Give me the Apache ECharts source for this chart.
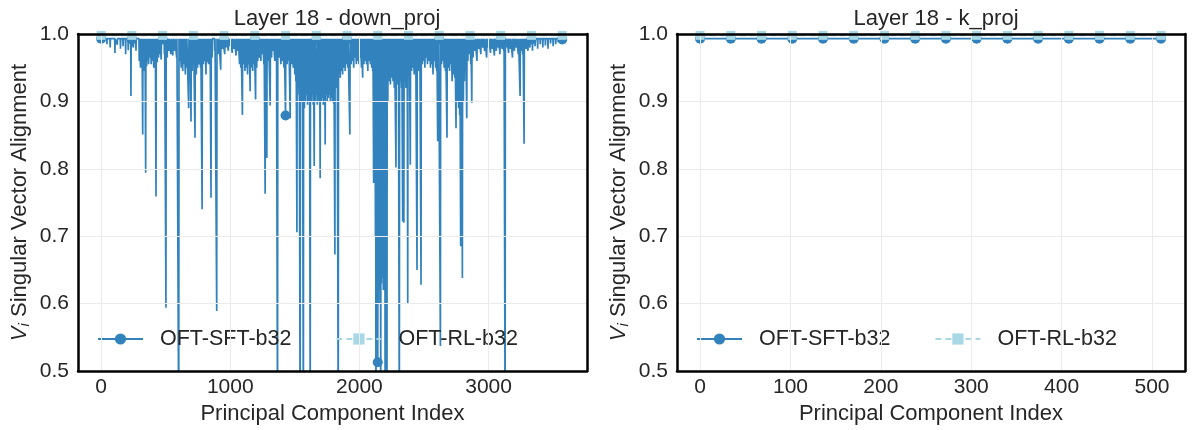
<!DOCTYPE html>
<html>
<head>
<meta charset="utf-8">
<script src="https://cdn.jsdelivr.net/npm/echarts@6/dist/echarts.min.js"></script>
<style>
html, body { margin: 0; padding: 0; background: #fff; }
#chart { width: 1194px; height: 430px; }
</style>
</head>
<body>
<div id="chart"></div>
<script>
const names = ['OFT-SFT-b32', 'OFT-RL-b32'];
const titles = ['Layer 18 - down_proj', 'Layer 18 - k_proj'];

// down_proj: 3584 components, markers every 238
const downLast = 3583;
const downTop = 0.993;
const downMarkIdx = [0, 238, 476, 714, 952, 1190, 1428, 1666, 1904, 2142, 2380, 2618, 2856, 3094, 3332, 3570];
const downSftMark = [0.993, 0.992, 0.992, 0.973, 0.991, 0.992, 0.879, 0.991, 0.992, 0.513, 0.982, 0.992, 0.989, 0.992, 0.992, 0.992];
const downRlMark = [0.998, 0.998, 0.998, 0.998, 0.998, 0.998, 0.998, 0.998, 0.998, 0.998, 0.998, 0.998, 0.998, 0.998, 0.998, 0.998];
// dips of the SFT curve [index, value]
const downSftDips = [
  [20,0.988],[45,0.985],[70,0.98],[107,0.972],[125,0.984],
  [150,0.978],[170,0.982],[190,0.97],[210,0.976],[231,0.908],[250,0.98],[270,0.975],
  [295,0.96],[305,0.95],[315,0.955],[322,0.851],[330,0.945],[338,0.95],[345,0.794],[352,0.952],[360,0.96],[368,0.955],
  [378,0.965],[388,0.955],[398,0.96],[408,0.95],[418,0.962],[425,0.759],[435,0.958],[445,0.965],[455,0.97],[465,0.962],
  [490,0.97],[502,0.594],[512,0.965],[525,0.975],[540,0.97],[555,0.968],[570,0.975],[585,0.965],[601,0.4],
  [610,0.96],[620,0.95],[632,0.945],[642,0.955],[652,0.94],[662,0.95],[678,0.89],[687,0.93],[696,0.87],[705,0.945],[727,0.846],[737,0.94],[747,0.95],
  [760,0.955],[770,0.95],[782,0.74],[792,0.955],[802,0.96],[812,0.94],[822,0.958],[832,0.955],[842,0.96],[851,0.757],[860,0.965],
  [880,0.975],[895,0.589],[910,0.97],[926,0.947],[940,0.978],[957,0.97],[970,0.98],[985,0.975],[1000,0.982],[1015,0.972],[1030,0.978],[1045,0.968],[1060,0.975],
  [1072,0.955],[1082,0.95],[1094,0.88],[1104,0.955],[1114,0.945],[1124,0.95],[1134,0.94],[1144,0.955],[1154,0.915],[1164,0.95],[1174,0.945],[1184,0.955],[1196,0.903],[1205,0.95],[1213,0.96],
  [1225,0.965],[1237,0.96],[1250,0.97],[1260,0.955],[1270,0.763],[1283,0.816],[1295,0.96],[1309,0.894],[1320,0.965],[1332,0.975],[1345,0.96],[1356,0.97],[1366,0.4],
  [1380,0.965],[1392,0.955],[1404,0.96],[1416,0.95],[1440,0.955],[1452,0.96],[1464,0.875],[1476,0.955],[1488,0.95],[1500,0.94],[1508,0.93],[1516,0.706],
  [1524,0.92],[1532,0.91],[1541,0.4],[1549,0.9],[1557,0.91],[1566,0.4],[1574,0.89],[1582,0.9],[1590,0.91],[1598,0.895],[1606,0.9],[1612,0.91],[1619,0.4],[1627,0.9],[1635,0.91],[1642,0.895],[1650,0.804],[1658,0.9],[1674,0.895],[1682,0.9],[1690,0.91],[1696,0.786],[1704,0.9],[1712,0.905],[1720,0.895],[1728,0.9],[1735,0.836],[1743,0.91],[1751,0.9],[1759,0.905],[1767,0.91],[1775,0.9],[1783,0.905],[1791,0.9],[1800,0.897],
  [1810,0.673],[1818,0.92],[1826,0.93],[1836,0.4],[1844,0.94],[1852,0.935],[1860,0.945],[1870,0.94],[1880,0.95],[1890,0.945],[1899,0.955],[1910,0.95],
  [1926,0.851],[1936,0.955],[1946,0.96],[1956,0.95],[1966,0.965],[1976,0.955],[1986,0.96],[1996,0.955],[2006,0.965],[2016,0.95],[2025,0.935],[2035,0.955],[2045,0.96],[2055,0.955],[2065,0.945],[2075,0.96],[2085,0.955],[2095,0.95],[2103,0.945],[2110,0.779],[2118,0.93],
  [2124,0.7],[2128,0.4],[2133,0.62],[2138,0.65],[2146,0.63],[2150,0.6],[2155,0.64],[2160,0.62],[2165,0.4],[2170,0.63],[2175,0.64],[2180,0.638],[2185,0.62],[2190,0.64],[2195,0.63],[2199,0.4],[2204,0.66],[2213,0.4],[2220,0.9],
  [2230,0.93],[2240,0.925],[2250,0.935],[2260,0.93],[2270,0.92],[2283,0.802],[2292,0.925],[2300,0.93],[2309,0.4],[2318,0.93],[2326,0.92],[2335,0.722],[2344,0.72],[2352,0.93],[2360,0.92],[2368,0.935],[2374,0.6],
  [2385,0.94],[2394,0.806],[2404,0.945],[2414,0.95],[2424,0.94],[2434,0.955],[2446,0.65],[2456,0.945],[2466,0.95],[2477,0.628],[2487,0.955],[2497,0.96],[2507,0.95],[2517,0.965],[2527,0.955],
  [2540,0.96],[2550,0.95],[2560,0.955],[2570,0.94],[2580,0.96],[2590,0.95],[2598,0.945],[2606,0.841],[2612,0.95],[2627,0.537],[2636,0.955],[2646,0.96],[2656,0.95],[2666,0.945],[2678,0.846],[2688,0.95],[2698,0.945],[2708,0.955],[2718,0.93],[2728,0.94],[2738,0.935],[2748,0.86],[2758,0.9],[2768,0.89],
  [2776,0.88],[2784,0.685],[2790,0.87],[2797,0.638],[2805,0.9],[2813,0.93],[2822,0.95],[2831,0.875],[2840,0.96],[2850,0.97],[2862,0.955],[2870,0.898],[2880,0.965],
  [2895,0.975],[2910,0.96],[2925,0.978],[2940,0.97],[2955,0.98],[2970,0.975],[2985,0.965],[3000,0.98],[3015,0.972],[3030,0.978],[3045,0.968],[3060,0.975],[3075,0.98],
  [3088,0.97],[3105,0.978],[3118,0.975],[3128,0.4],[3140,0.98],[3155,0.972],[3170,0.978],[3185,0.965],[3200,0.975],[3215,0.98],[3230,0.97],[3244,0.908],[3255,0.975],[3265,0.97],[3275,0.837],[3290,0.978],[3305,0.975],
  [3320,0.98],[3340,0.975],[3360,0.982],[3380,0.978],[3400,0.985],[3420,0.98],[3440,0.983],[3460,0.978],[3480,0.986],[3500,0.982],[3520,0.985],[3540,0.988],[3560,0.986]
];

// k_proj: 512 components, markers every 34
const kIdx = [0, 34, 68, 102, 136, 170, 204, 238, 272, 306, 340, 374, 408, 442, 476, 510, 511];
const kSft = [0.993, 0.993, 0.993, 0.993, 0.993, 0.993, 0.993, 0.993, 0.993, 0.993, 0.993, 0.993, 0.993, 0.993, 0.993, 0.993, 0.993];
const kRl = [0.998, 0.998, 0.998, 0.998, 0.998, 0.998, 0.998, 0.998, 0.998, 0.998, 0.998, 0.998, 0.998, 0.998, 0.998, 0.998, 0.998];

const cSft = '#3182bd';
const cRl = '#a8d8e6';
const font = "'Liberation Sans', Arial, sans-serif";
const txt = '#262626';

// sft curve: each dip drops from the top level and comes back
function downSftData() {
    const marks = downMarkIdx.map((x, i) => ({ x: x, y: downSftMark[i], mark: true }));
    const dips = downSftDips.map((d) => ({ x: d[0], y: d[1], mark: false }));
    const all = marks.concat(dips).sort((a, b) => a.x - b.x);
    all.push({ x: downLast, y: downTop, mark: false });
    const out = [];
    all.forEach((p) => {
        const deep = p.y < downTop - 0.003;
        if (deep) out.push({ value: [p.x - 2, downTop], symbol: 'none' });
        out.push({ value: [p.x, p.y], symbol: p.mark ? 'circle' : 'none' });
        if (deep) out.push({ value: [p.x + 2, downTop], symbol: 'none' });
    });
    return out;
}

const grids = [
    { left: 78, top: 34, width: 509, height: 337 },
    { left: 677, top: 34, width: 508, height: 337 }
];
const xRanges = [[-179, 3762, 1000], [-25.55, 536.55, 100]];

const yName = '{v|V}{s|i} Singular Vector Alignment';
const frameLine = { show: true, onZero: false, lineStyle: { color: '#000', width: 2.5 } };

const xAxis = [];
const yAxis = [];
[0, 1].forEach((g) => {
    const r = xRanges[g];
    xAxis.push({
        type: 'value', gridIndex: g, min: r[0], max: r[1], z: 10,
        name: 'Principal Component Index', nameLocation: 'middle', nameGap: 32,
        nameTextStyle: { fontSize: 22, color: txt, fontFamily: font },
        axisLine: frameLine,
        axisTick: { show: false },
        axisLabel: {
            fontSize: 21, color: txt, fontFamily: font, margin: 6,
            formatter: (v) => (Math.abs(v % r[2]) < 1e-6 ? String(v) : '')
        },
        splitLine: { show: true, lineStyle: { color: '#ebebeb', width: 1 } }
    });
    yAxis.push({
        type: 'value', gridIndex: g, min: 0.5, max: 1.0, interval: 0.1, z: 10,
        name: yName, nameLocation: 'middle', nameGap: 46,
        nameTextStyle: {
            fontSize: 22, color: txt, fontFamily: font,
            rich: {
                v: { fontSize: 22, fontStyle: 'italic', color: txt, fontFamily: font },
                s: { fontSize: 15, fontStyle: 'italic', color: txt, fontFamily: font, verticalAlign: 'bottom', padding: [10, 0, 0, 0] }
            }
        },
        axisLine: frameLine,
        axisTick: { show: false },
        axisLabel: { fontSize: 21, color: txt, fontFamily: font, margin: 9, formatter: (v) => v.toFixed(1) },
        splitLine: { show: true, lineStyle: { color: '#ebebeb', width: 1 } }
    });
});
// top and right frame lines
[0, 1].forEach((g) => {
    const r = xRanges[g];
    xAxis.push({
        type: 'value', gridIndex: g, position: 'top', min: r[0], max: r[1], z: 10,
        axisLine: frameLine,
        axisTick: { show: false }, axisLabel: { show: false }, splitLine: { show: false }
    });
    yAxis.push({
        type: 'value', gridIndex: g, position: 'right', min: 0.5, max: 1.0, z: 10,
        axisLine: frameLine,
        axisTick: { show: false }, axisLabel: { show: false }, splitLine: { show: false }
    });
});

function sftSeries(g, data) {
    return {
        name: names[0], type: 'line', xAxisIndex: g, yAxisIndex: g, data: data,
        symbol: 'circle', symbolSize: 10, showAllSymbol: true, z: 2,
        lineStyle: { color: cSft, width: 1.7 }, itemStyle: { color: cSft }
    };
}
function rlSeries(g, data) {
    return {
        name: names[1], type: 'line', xAxisIndex: g, yAxisIndex: g, data: data,
        symbol: 'rect', symbolSize: 9, showAllSymbol: true, z: 3,
        lineStyle: { color: cRl, width: 1.8, type: [6, 4] }, itemStyle: { color: cRl }
    };
}

const legendBase = {
    top: 323, itemWidth: 45, itemHeight: 14, itemGap: 44,
    selectedMode: false,
    textStyle: { fontSize: 21.5, color: txt, fontFamily: font, padding: [0, 0, 0, 12] },
    data: names
};

const titleStyle = { fontSize: 22, fontWeight: 'normal', color: txt, fontFamily: font };

const option = {
    animation: false,
    backgroundColor: '#fff',
    title: [
        { text: titles[0], left: 332, top: 3, textAlign: 'center', textStyle: titleStyle },
        { text: titles[1], left: 931, top: 3, textAlign: 'center', textStyle: titleStyle }
    ],
    legend: [
        Object.assign({}, legendBase, { left: 92 }),
        Object.assign({}, legendBase, { left: 691 })
    ],
    grid: grids,
    xAxis: xAxis,
    yAxis: yAxis,
    series: [
        sftSeries(0, downSftData()),
        rlSeries(0, downMarkIdx.map((x, i) => [x, downRlMark[i]])),
        sftSeries(1, kIdx.map((x, i) => ({ value: [x, kSft[i]], symbol: i < kIdx.length - 1 ? 'circle' : 'none' }))),
        rlSeries(1, kIdx.map((x, i) => ({ value: [x, kRl[i]], symbol: i < kIdx.length - 1 ? 'rect' : 'none' })))
    ]
};

let chart = echarts.init(document.getElementById('chart'));
option && chart.setOption(option);
window.addEventListener('resize', chart.resize);
</script>
</body>
</html>
